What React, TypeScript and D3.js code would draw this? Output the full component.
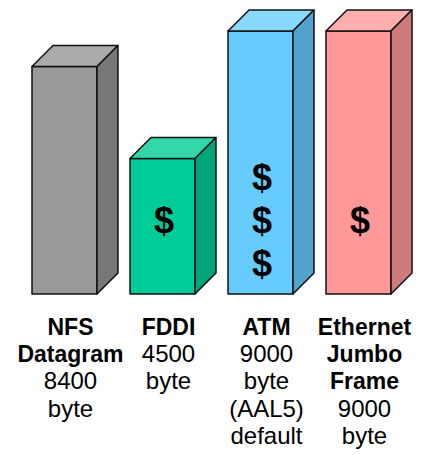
import React from "react";
import * as d3 from "d3";

const categories = ["NFS", "FDDI", "ATM", "Ethernet"];
// relative bar heights (tallest = 100)
const barHeights = [86.5, 51.5, 100, 100];
const dollarCounts = [0, 1, 3, 1];
const frontColors = ["#999999", "#00CC99", "#66CCFF", "#FF9999"];
const topColors = ["#ABABAB", "#33D8AA", "#88D8FF", "#FFAEAE"];
const sideColors = ["#777777", "#00A37A", "#52A3CC", "#CC7A7A"];
const labelLines = [
  ["NFS", "Datagram", "8400", "byte"],
  ["FDDI", "4500", "byte"],
  ["ATM", "9000", "byte", "(AAL5)", "default"],
  ["Ethernet", "Jumbo", "Frame", "9000", "byte"],
];
const labelBold = [
  [true, true, false, false],
  [true, false, false],
  [true, false, false, false, false],
  [true, true, true, false, false],
];

const W = 422;
const H = 455;
const DX = 21;
const DY = 21;

export default function App() {
  const x = d3
    .scaleBand<string>()
    .domain(categories)
    .range([32, 391])
    .paddingInner(0.337)
    .paddingOuter(0);
  const y = d3.scaleLinear().domain([0, 100]).range([294, 31]);
  const bw = x.bandwidth();
  const font = "'Liberation Sans', Arial, sans-serif";

  return (
    <svg
      width={W}
      height={H}
      style={{ position: "absolute", left: 0, top: 0, background: "#fff" }}
    >
      {categories.map((c, i) => {
        const x0 = x(c)!;
        const x1 = x0 + bw;
        const yt = y(barHeights[i]);
        const yb = y(0);
        const top = `M${x0},${yt} L${x0 + DX},${yt - DY} L${x1 + DX},${yt - DY} L${x1},${yt} Z`;
        const side = `M${x1},${yt} L${x1 + DX},${yt - DY} L${x1 + DX},${yb - DY} L${x1},${yb} Z`;
        const n = dollarCounts[i];
        const cx = x0 + bw / 2 + 1.5;
        return (
          <g key={c} stroke="#111" strokeWidth={1.5} strokeLinejoin="round">
            <rect x={x0} y={yt} width={bw} height={yb - yt} fill={frontColors[i]} />
            <path d={top} fill={topColors[i]} />
            <path d={side} fill={sideColors[i]} />
            {d3.range(n).map((k) => {
              const cy = 220 + (k - (n - 1) / 2) * 43;
              return (
                <text
                  key={k}
                  x={cx}
                  y={cy + 12.5}
                  textAnchor="middle"
                  fontFamily={font}
                  fontWeight="bold"
                  fontSize={36}
                  fill="#000"
                  stroke="none"
                >
                  $
                </text>
              );
            })}
          </g>
        );
      })}
      {categories.map((c, i) => {
        const cx = x(c)! + bw / 2 + 6;
        return (
          <g key={c + "-lbl"}>
            {labelLines[i].map((t, k) => (
              <text
                key={k}
                x={cx}
                y={335 + k * 27.2}
                textAnchor="middle"
                fontFamily={font}
                fontSize={labelBold[i][k] ? 23 : 24}
                fontWeight={labelBold[i][k] ? "bold" : "normal"}
                fill="#000"
              >
                {t}
              </text>
            ))}
          </g>
        );
      })}
    </svg>
  );
}
